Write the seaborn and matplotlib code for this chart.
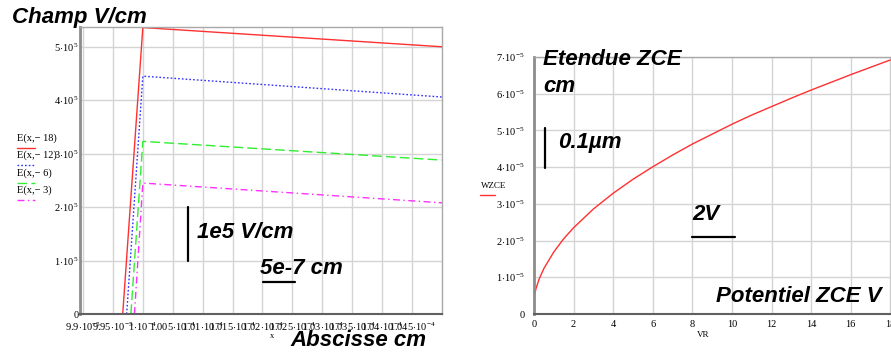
import numpy as np
import pandas as pd
import matplotlib
matplotlib.use('Agg')
import matplotlib.pyplot as plt
from matplotlib.lines import Line2D
from matplotlib.ticker import FixedLocator, FixedFormatter
import seaborn as sns

# ---------------- data ----------------
# left chart : electric field E(x, VR) in V/cm against x in cm
field_labels = ['E(x,\u2212 18)', 'E(x,\u2212 12)', 'E(x,\u2212 6)', 'E(x,\u2212 3)']
x_red = [9.9664e-5, 1.0e-4, 1.05e-4]
e_red = [0.0, 5.36e5, 5.00e5]
x_blue = [9.973e-5, 1.0e-4, 1.05e-4]
e_blue = [0.0, 4.45e5, 4.06e5]
x_green = [9.980e-5, 1.0e-4, 1.05e-4]
e_green = [0.0, 3.23e5, 2.88e5]
x_magenta = [9.986e-5, 1.0e-4, 1.05e-4]
e_magenta = [0.0, 2.45e5, 2.08e5]

left_xticks = [9.9e-5, 9.95e-5, 1.0e-4, 1.005e-4, 1.01e-4, 1.015e-4, 1.02e-4,
               1.025e-4, 1.03e-4, 1.035e-4, 1.04e-4, 1.045e-4]
left_xticklabels = ['9.9', '9.95', '1', '1.005', '1.01', '1.015', '1.02',
                    '1.025', '1.03', '1.035', '1.04', '1.045']
left_xtickexp = ['-5', '-5', '-4', '-4', '-4', '-4', '-4', '-4', '-4', '-4', '-4', '-4']
left_yticks = [0, 1e5, 2e5, 3e5, 4e5, 5e5]
left_yticklabels = ['0', '1', '2', '3', '4', '5']

# right chart : depletion width WZCE (cm) against reverse voltage VR (V)
vr = [0, 0.1, 0.25, 0.5, 1, 1.5, 2, 3, 4, 5, 6, 7, 8, 9, 10,
      11, 12, 13, 14, 15, 16, 17, 18]
wzce = [0.46e-5, 0.69e-5, 0.94e-5, 1.24e-5, 1.69e-5, 2.05e-5, 2.35e-5, 2.86e-5,
        3.29e-5, 3.67e-5, 4.01e-5, 4.33e-5, 4.63e-5, 4.90e-5, 5.17e-5,
        5.42e-5, 5.65e-5, 5.88e-5, 6.10e-5, 6.31e-5, 6.52e-5, 6.72e-5, 6.92e-5]
right_xticks = [0, 2, 4, 6, 8, 10, 12, 14, 16, 18]
right_yticks = [0, 1e-5, 2e-5, 3e-5, 4e-5, 5e-5, 6e-5, 7e-5]
right_yticklabels = ['0', '1', '2', '3', '4', '5', '6', '7']

# ---------------- style ----------------
sns.set_style('whitegrid')
plt.rcParams['font.family'] = ['Liberation Serif', 'DejaVu Serif']
plt.rcParams['text.color'] = 'black'
plt.rcParams['mathtext.fontset'] = 'custom'
plt.rcParams['mathtext.rm'] = 'Liberation Serif'
plt.rcParams['mathtext.it'] = 'Liberation Serif:italic'
plt.rcParams['mathtext.bf'] = 'Liberation Serif:bold'

BIG = dict(family='Liberation Sans', fontweight='bold', fontstyle='italic',
           fontsize=16, color='black')
GRID = '#d4d4d4'

red = '#ff3030'
blue = '#3030ff'
green = '#30ee30'
magenta = '#ff30ff'

fig = plt.figure(figsize=(8.91, 3.54), dpi=100)
ax1 = fig.add_axes([80 / 891, 1 - 314 / 354, 362 / 891, 287 / 354])
ax2 = fig.add_axes([534 / 891, 1 - 314 / 354, 357 / 891, 257 / 354])


def style_axes(ax, lpad, bpad):
    ax.grid(True, color=GRID, linewidth=1)
    ax.set_axisbelow(True)
    for side in ['top', 'right']:
        ax.spines[side].set_color('#a8a8a8')
        ax.spines[side].set_linewidth(1)
    ax.spines['left'].set_color('#8c8c8c')
    ax.spines['left'].set_linewidth(2)
    ax.spines['bottom'].set_color('#606060')
    ax.spines['bottom'].set_linewidth(1.5)
    ax.tick_params(axis='y', length=0, pad=lpad, labelsize=7.5, colors='black')
    ax.tick_params(axis='x', length=0, pad=bpad, labelsize=7.5, colors='black')
    ax.set_xlabel('')
    ax.set_ylabel('')


# ---------------- left chart ----------------
sns.lineplot(x=x_red, y=e_red, ax=ax1, color=red, linewidth=1)
sns.lineplot(x=x_blue, y=e_blue, ax=ax1, color=blue, linewidth=1, linestyle=(0, (1.2, 1.5)))
sns.lineplot(x=x_green, y=e_green, ax=ax1, color=green, linewidth=1, linestyle=(0, (7, 3)))
sns.lineplot(x=x_magenta, y=e_magenta, ax=ax1, color=magenta, linewidth=1,
             linestyle=(0, (5, 2.5, 1, 2.5)))
ax1.set_xlim(9.895e-5, 1.05e-4)
ax1.set_ylim(0, 5.37e5)
ax1.xaxis.set_major_locator(FixedLocator(left_xticks))
ax1.xaxis.set_major_formatter(FixedFormatter(
    [r'$%s\!\cdot\!10^{%s}$' % (m, e) for m, e in zip(left_xticklabels, left_xtickexp)]))
ax1.yaxis.set_major_locator(FixedLocator(left_yticks))
ax1.yaxis.set_major_formatter(FixedFormatter(
    ['0'] + [r'$%s\!\cdot\!10^{5}$' % m for m in left_yticklabels[1:]]))
style_axes(ax1, 1, 5)

# scale bars and annotations
ax1.plot([1.00755e-4, 1.00755e-4], [1e5, 2e5], color='black', linewidth=1.6)
ax1.text(1.0090e-4, 1.53e5, '1e5 V/cm', va='center', ha='left', **BIG)
ax1.plot([1.0201e-4, 1.0254e-4], [0.60e5, 0.60e5], color='black', linewidth=1.6)
ax1.text(1.0196e-4, 0.86e5, '5e-7 cm', va='center', ha='left', **BIG)

fig.text(12 / 891, 1 - 18 / 354, 'Champ V/cm', va='center', ha='left', **BIG)
fig.text(290 / 891, 1 - 340 / 354, 'Abscisse cm', va='center', ha='left', **BIG)
fig.text(272 / 891, 1 - 336 / 354, 'x', va='center', ha='center', fontsize=6)

# left legend (label above sample line)
styles = [dict(color=red, linestyle='-'),
          dict(color=blue, linestyle=(0, (1.2, 1.5))),
          dict(color=green, linestyle=(0, (7, 3))),
          dict(color=magenta, linestyle=(0, (5, 2.5, 1, 2.5)))]
for i, (lab, st) in enumerate(zip(field_labels, styles)):
    ty = 138 + i * 17.5
    fig.text(17 / 891, 1 - ty / 354, lab, va='center', ha='left', fontsize=7.5)
    fig.add_artist(Line2D([17 / 891, 35 / 891], [1 - (ty + 9.5) / 354] * 2,
                          linewidth=1, **st))

# ---------------- right chart ----------------
sns.lineplot(x=vr, y=wzce, ax=ax2, color=red, linewidth=1)
ax2.set_xlim(0, 18.03)
ax2.set_ylim(0, 7e-5)
ax2.xaxis.set_major_locator(FixedLocator(right_xticks))
ax2.xaxis.set_major_formatter(FixedFormatter([str(v) for v in right_xticks]))
ax2.yaxis.set_major_locator(FixedLocator(right_yticks))
ax2.yaxis.set_major_formatter(FixedFormatter(
    ['0'] + [r'$%s\!\cdot\!10^{-5}$' % m for m in right_yticklabels[1:]]))
style_axes(ax2, 7, 4)

ax2.text(0.45, 6.92e-5, 'Etendue ZCE', va='center', ha='left', **BIG)
ax2.text(0.45, 6.21e-5, 'cm', va='center', ha='left', **BIG)
ax2.plot([0.55, 0.55], [3.98e-5, 5.07e-5], color='black', linewidth=1.6)
ax2.text(1.21, 4.66e-5, '0.1\u00b5m', va='center', ha='left', **BIG)
ax2.plot([7.98, 10.15], [2.1e-5, 2.1e-5], color='black', linewidth=1.6)
ax2.text(7.98, 2.7e-5, '2V', va='center', ha='left', **BIG)
ax2.text(17.58, 0.49e-5, 'Potentiel ZCE V', va='center', ha='right', **BIG)

fig.text(481 / 891, 1 - 186 / 354, 'WZCE', va='center', ha='left', fontsize=6.5)
fig.add_artist(Line2D([480 / 891, 495 / 891], [1 - 195 / 354] * 2, color=red, linewidth=1))
fig.text(703 / 891, 1 - 335 / 354, 'VR', va='center', ha='center', fontsize=6.5)

fig.savefig('out.png', dpi=100)
